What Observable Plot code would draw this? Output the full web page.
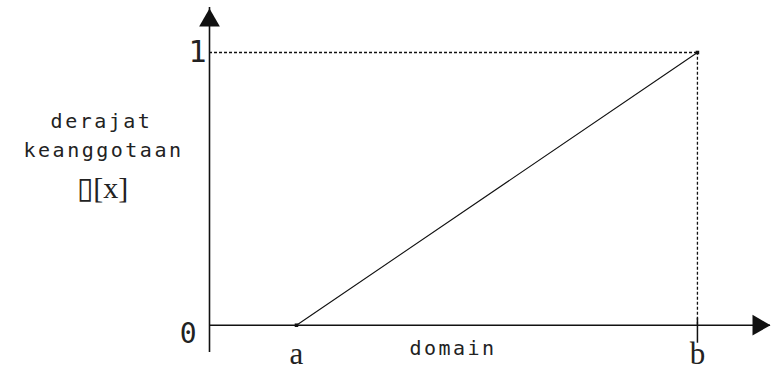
<!DOCTYPE html>
<html><head><meta charset="utf-8">
<script src="https://cdn.jsdelivr.net/npm/d3@7"></script>
<script src="https://cdn.jsdelivr.net/npm/@observablehq/plot@0.6"></script>
<style>body{margin:0;background:#fff}</style>
</head><body><div id="chart"></div>
<script>
// x in domain units (origin = 0), y = membership degree
const xTickValues = [1, 5.61];        // a, b
const xTickLabels = ["a", "b"];
const yTickValues = [0, 1];
const yTickLabels = ["0", "1"];
const membershipX = [1, 5.61];        // rises linearly from a to b
const membershipY = [0, 1];
const xExtent = [0, 6.45];
const yExtent = [-0.1, 1.165];
const yAxisLabelLines = ["derajat", "keanggotaan"];
const yAxisSymbol = "▯[x]";
const xAxisLabel = "domain";

const mono = "'DejaVu Sans Mono', monospace";
const serif = "'Liberation Serif', 'DejaVu Serif', serif";
const ink = "#111";

const curve = membershipX.map((x, i) => ({x, y: membershipY[i]}));
const aPt = {x: xTickValues[0], y: yTickValues[0]};
const bPt = {x: xTickValues[1], y: yTickValues[1]};

const svg = Plot.plot({
  width: 778,
  height: 372,
  marginLeft: 209,
  marginRight: 8,
  marginTop: 7,
  marginBottom: 20,
  x: {domain: xExtent, axis: null},
  y: {domain: yExtent, axis: null},
  style: {background: "#fff", overflow: "visible"},
  marks: [
    // dotted guide lines to (b, 1)
    Plot.ruleY([bPt], {x1: xExtent[0], x2: d => d.x, y: "y", stroke: ink, strokeWidth: 1.3, strokeDasharray: "3,2"}),
    Plot.ruleX([bPt], {x: "x", y1: yTickValues[0], y2: d => d.y, stroke: ink, strokeWidth: 1.3, strokeDasharray: "3,2"}),
    // axes
    Plot.ruleX([xExtent[0]], {y1: yExtent[0], y2: yExtent[1], stroke: ink, strokeWidth: 1.6}),
    Plot.ruleY([yTickValues[0]], {x1: xExtent[0], x2: xExtent[1], stroke: ink, strokeWidth: 1.5}),
    Plot.dot([{x: xExtent[0], y: yExtent[1]}], {x: "x", y: "y", symbol: "triangle", r: 7.7, fill: ink, stroke: "none", dy: 13}),
    Plot.dot([{x: xExtent[1], y: yTickValues[0]}], {x: "x", y: "y", symbol: "triangle", r: 7.7, fill: ink, stroke: "none", rotate: 90, dx: -12}),
    // tick at b
    Plot.ruleX([bPt], {x: "x", y1: 0.026, y2: -0.066, stroke: ink, strokeWidth: 1.5}),
    // membership line
    Plot.line(curve, {x: "x", y: "y", stroke: ink, strokeWidth: 1.1}),
    Plot.dot([aPt, bPt], {x: "x", y: "y", r: 2, fill: ink, stroke: "none", symbol: "square"}),
    // y tick labels
    Plot.text([yTickValues[0]], {x: xExtent[0], y: d => d, text: () => yTickLabels[0], textAnchor: "end", lineAnchor: "middle", dx: -13, dy: 9, fontFamily: mono, fontSize: 28, fill: "#222"}),
    Plot.text([yTickValues[1]], {x: xExtent[0], y: d => d, text: () => yTickLabels[1], textAnchor: "end", lineAnchor: "middle", dx: -3, dy: 0, fontFamily: mono, fontSize: 30, fill: "#222"}),
    // x tick labels
    Plot.text([0], {x: xTickValues[0], y: yTickValues[0], text: () => xTickLabels[0], lineAnchor: "middle", dy: 29, fontFamily: serif, fontSize: 31, fill: "#222"}),
    Plot.text([1], {x: xTickValues[1], y: yTickValues[0], text: () => xTickLabels[1], lineAnchor: "middle", dy: 29, fontFamily: serif, fontSize: 31, fill: "#222"}),
    // axis labels
    Plot.text([xAxisLabel], {frameAnchor: "bottom", text: d => d, textAnchor: "middle", lineAnchor: "bottom", dx: -37, dy: 2, fontFamily: mono, fontSize: 20, fill: "#222"}),
    Plot.text([yAxisLabelLines[0]], {frameAnchor: "top-left", text: d => d, textAnchor: "middle", lineAnchor: "bottom", dx: -108, dy: 120, fontFamily: mono, fontSize: 20, fill: "#222"}),
    Plot.text([yAxisLabelLines[1]], {frameAnchor: "top-left", text: d => d, textAnchor: "middle", lineAnchor: "bottom", dx: -106, dy: 149, fontFamily: mono, fontSize: 20, fill: "#222"}),
    Plot.text([yAxisSymbol], {frameAnchor: "top-left", text: d => d, textAnchor: "middle", lineAnchor: "bottom", dx: -107, dy: 190, fontFamily: serif, fontSize: 30, fill: "#222"})
  ]
});
const spaced = new Set([xAxisLabel, ...yAxisLabelLines]);
svg.querySelectorAll("text").forEach(t => { if (spaced.has(t.textContent)) t.setAttribute("letter-spacing", "2.5"); });
document.getElementById("chart").appendChild(svg);
</script>
</body></html>
